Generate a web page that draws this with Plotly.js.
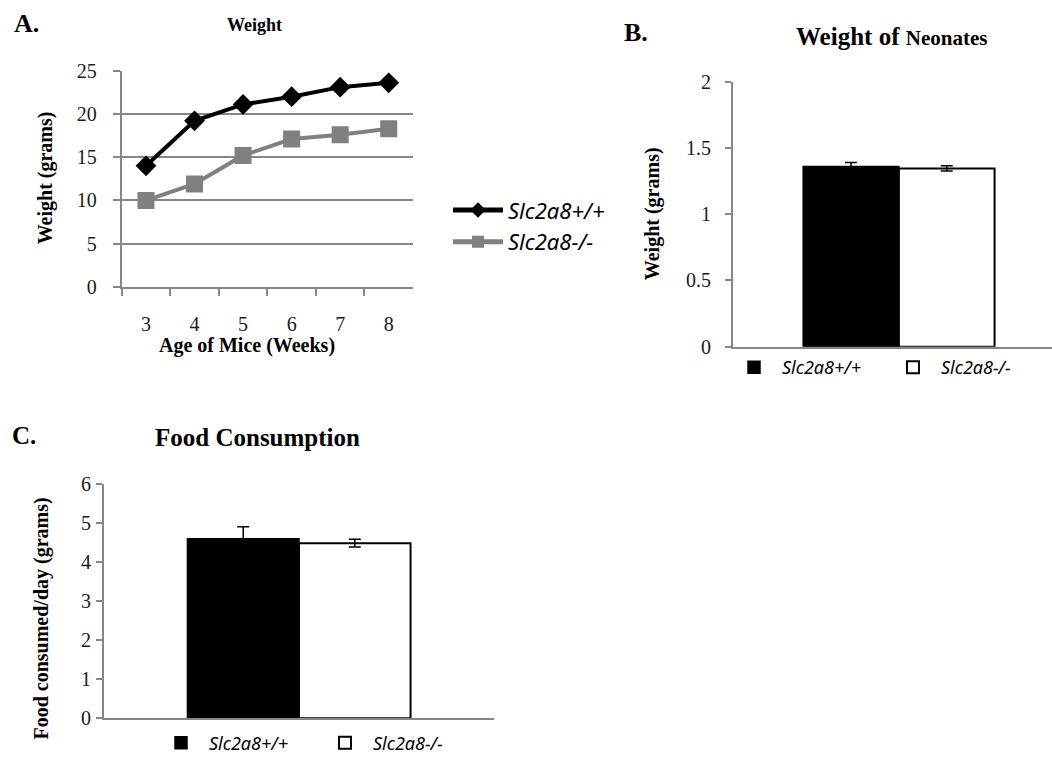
<!DOCTYPE html>
<html>
<head>
<meta charset="utf-8">
<script src="https://cdn.plot.ly/plotly-3.0.1.min.js"></script>
<style>html,body{margin:0;padding:0;background:#fff;}#chart{width:1052px;height:762px;}</style>
</head>
<body>
<div id="chart"></div>
<script>
// ---------- data ----------
const weeks = ['3', '4', '5', '6', '7', '8'];
const weightWT = [14, 19.2, 21.1, 22, 23.1, 23.6];
const weightKO = [10, 11.9, 15.2, 17.1, 17.6, 18.3];

const genotypes = ['Slc2a8+/+', 'Slc2a8-/-'];
const neonateWeight = [1.36, 1.345];
const neonateErr = [0.03, 0.02];

const foodConsumed = [4.59, 4.48];
const foodErr = [0.31, 0.1];

// ---------- helpers ----------
const W = 1052, H = 762;
const fx = p => p / W;
const fy = p => 1 - p / H;
const SERIF = 'Liberation Serif, Times New Roman, serif';
const SANS = 'Noto Sans, Open Sans, sans-serif';
const GRAY = '#878787';

const traces = [
  {
    type: 'scatter', mode: 'lines+markers', x: weeks, y: weightWT, name: genotypes[0],
    xaxis: 'x', yaxis: 'y', legend: 'legend',
    line: {color: '#000', width: 4},
    marker: {symbol: 'diamond', size: 16, color: '#000'}
  },
  {
    type: 'scatter', mode: 'lines+markers', x: weeks, y: weightKO, name: genotypes[1],
    xaxis: 'x', yaxis: 'y', legend: 'legend',
    line: {color: '#808080', width: 4},
    marker: {symbol: 'square', size: 17, color: '#808080'}
  },
  // Panel B
  {
    type: 'bar', x: ['Neonates'], y: [neonateWeight[0]], name: genotypes[0],
    xaxis: 'x2', yaxis: 'y2', legend: 'legend2',
    width: 0.3, offset: -0.3,
    marker: {color: '#000', line: {color: '#000', width: 1.5}},
    error_y: {type: 'data', array: [neonateErr[0]], color: '#000', thickness: 1.5, width: 6}
  },
  {
    type: 'bar', x: ['Neonates'], y: [neonateWeight[1]], name: genotypes[1],
    xaxis: 'x2', yaxis: 'y2', legend: 'legend3',
    width: 0.3, offset: 0,
    marker: {color: '#fff', line: {color: '#000', width: 2}},
    error_y: {type: 'data', array: [neonateErr[1]], color: '#000', thickness: 1.5, width: 6}
  },
  // Panel C
  {
    type: 'bar', x: ['Food'], y: [foodConsumed[0]], name: genotypes[0],
    xaxis: 'x3', yaxis: 'y3', legend: 'legend4',
    width: 0.286, offset: -0.286,
    marker: {color: '#000', line: {color: '#000', width: 1.5}},
    error_y: {type: 'data', array: [foodErr[0]], color: '#000', thickness: 1.5, width: 6}
  },
  {
    type: 'bar', x: ['Food'], y: [foodConsumed[1]], name: genotypes[1],
    xaxis: 'x3', yaxis: 'y3', legend: 'legend5',
    width: 0.286, offset: 0,
    marker: {color: '#fff', line: {color: '#000', width: 2}},
    error_y: {type: 'data', array: [foodErr[1]], color: '#000', thickness: 1.5, width: 6}
  }
];

const tickFont = s => ({family: SERIF, size: s, color: '#1a1a1a'});
const legFont = s => ({family: SANS, size: s, color: '#000', style: 'italic'});

function barLegend(x, y) {
  return {x: fx(x), y: fy(y), xanchor: 'left', yanchor: 'middle', orientation: 'h',
          font: legFont(18), bgcolor: 'rgba(0,0,0,0)', borderwidth: 0, itemwidth: 46};
}

const ann = (text, x, y, size, extra) => Object.assign({
  text: text, x: fx(x), y: fy(y), xref: 'paper', yref: 'paper',
  showarrow: false, xanchor: 'center', yanchor: 'middle',
  font: {family: SERIF, size: size, color: '#000'}
}, extra || {});

const layout = {
  width: W, height: H,
  margin: {l: 0, r: 0, t: 0, b: 0},
  paper_bgcolor: '#fff', plot_bgcolor: 'rgba(0,0,0,0)',
  showlegend: true,
  // Panel A axes
  xaxis: {
    domain: [fx(121.7), fx(413)], anchor: 'y', type: 'category',
    range: [-0.5, 5.5], showgrid: false, zeroline: false,
    showline: true, linecolor: GRAY, linewidth: 2,
    ticks: 'outside', tickson: 'boundaries', ticklen: 7, tickcolor: GRAY, tickwidth: 2,
    tickfont: tickFont(20), ticklabelstandoff: 18
  },
  yaxis: {
    domain: [fy(288), fy(71)], anchor: 'x', range: [0, 25], dtick: 5,
    showgrid: true, gridcolor: GRAY, gridwidth: 2, zeroline: false,
    showline: true, linecolor: GRAY, linewidth: 2,
    ticks: 'outside', ticklen: 7, tickcolor: GRAY, tickwidth: 2,
    tickfont: tickFont(20), ticklabelstandoff: 12
  },
  // Panel B axes
  xaxis2: {
    domain: [fx(733), 1], anchor: 'y2', type: 'category', range: [-0.52, 0.48],
    showgrid: false, zeroline: false, showline: true, linecolor: GRAY, linewidth: 2,
    ticks: '', showticklabels: false
  },
  yaxis2: {
    domain: [fy(348), fy(82)], anchor: 'x2', range: [0, 2], dtick: 0.5,
    showgrid: false, zeroline: false, showline: true, linecolor: GRAY, linewidth: 2,
    ticks: 'outside', ticklen: 6, tickcolor: GRAY, tickwidth: 2,
    tickfont: tickFont(20), ticklabelstandoff: 10
  },
  // Panel C axes
  xaxis3: {
    domain: [fx(104), fx(494)], anchor: 'y3', type: 'category', range: [-0.5, 0.5],
    showgrid: false, zeroline: false, showline: true, linecolor: GRAY, linewidth: 2,
    ticks: '', showticklabels: false
  },
  yaxis3: {
    domain: [fy(721), fy(485.7)], anchor: 'x3', range: [0, 6], dtick: 1,
    showgrid: false, zeroline: false, showline: true, linecolor: GRAY, linewidth: 2,
    ticks: 'outside', ticklen: 6, tickcolor: GRAY, tickwidth: 2,
    tickfont: tickFont(20), ticklabelstandoff: 1
  },
  legend: {
    x: fx(448), y: fy(190), xanchor: 'left', yanchor: 'top', orientation: 'v',
    font: legFont(22), bgcolor: 'rgba(0,0,0,0)', borderwidth: 0, itemwidth: 50,
    itemsizing: 'constant', tracegroupgap: 0
  },
  legend2: barLegend(726, 369),
  legend3: barLegend(885, 369),
  legend4: barLegend(153, 746),
  legend5: barLegend(317, 746),
  annotations: [
    ann('<b>A.</b>', 26, 24, 26),
    ann('<b>Weight</b>', 254, 25, 18),
    ann('<b>Weight (grams)</b>', 45, 179, 20, {textangle: -90}),
    ann('<b>Age of Mice (Weeks)</b>', 247, 347, 20),
    ann('<b>B.</b>', 636, 33, 26),
    ann('<b>Weight of <span style="font-size:21px">Neonates</span></b>', 891, 37, 25),
    ann('<b>Weight (grams)</b>', 652, 215, 20, {textangle: -90}),
    ann('<b>C.</b>', 24, 437, 25),
    ann('<b>Food Consumption</b>', 257, 439, 25),
    ann('<b>Food consumed/day (grams)</b>', 42, 621, 20, {textangle: -90})
  ]
};

Plotly.newPlot('chart', traces, layout, {displayModeBar: false, staticPlot: true});
</script>
</body>
</html>
